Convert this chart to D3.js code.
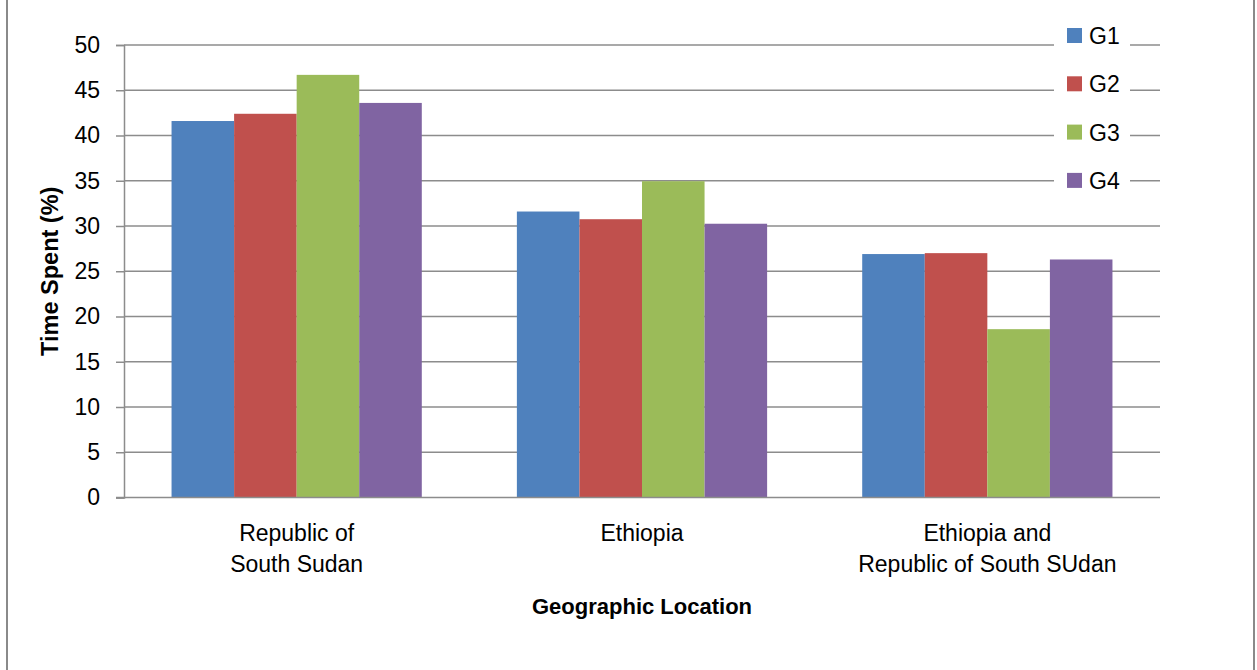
<!DOCTYPE html>
<html>
<head>
<meta charset="utf-8">
<script src="https://cdn.jsdelivr.net/npm/d3@7"></script>
<style>
  body { margin: 0; background: #fff; }
  svg text { font-family: "Liberation Sans", Arial, sans-serif; fill: #000; }
</style>
</head>
<body>
<div id="chart"></div>
<script>
// data
const locations = ["Republic of|South Sudan", "Ethiopia", "Ethiopia and|Republic of South SUdan"];
const groups = ["G1", "G2", "G3", "G4"];
const g1 = [41.6, 31.6, 26.9];
const g2 = [42.4, 30.75, 27.0];
const g3 = [46.7, 34.95, 18.6];
const g4 = [43.6, 30.25, 26.3];
const yTicks = [0, 5, 10, 15, 20, 25, 30, 35, 40, 45, 50];
const colors = ["#4F81BD", "#C0504D", "#9BBB59", "#8064A2"];

const series = [g1, g2, g3, g4];
const rows = locations.map((loc, i) => ({
    loc: loc,
    values: groups.map((g, j) => ({ key: g, value: series[j][i] }))
}));

const W = 1257, H = 670;
const plot = { left: 124, right: 1160, top: 45, bottom: 497.5 };

const svg = d3.select("#chart")
    .append("svg")
    .attr("width", W)
    .attr("height", H);

// outer chart border (top and bottom fall outside the crop)
svg.append("rect")
    .attr("x", 7).attr("y", -10)
    .attr("width", 1247).attr("height", H + 20)
    .attr("fill", "none")
    .attr("stroke", "#8a8a8a")
    .attr("stroke-width", 2);

// scales
const x0 = d3.scaleBand()
    .domain(locations)
    .range([plot.left, plot.right])
    .paddingInner(0)
    .paddingOuter(0);

const x1 = d3.scaleBand()
    .domain(groups)
    .range([0, x0.bandwidth()])
    .paddingInner(0)
    .paddingOuter(0.76);

const y = d3.scaleLinear()
    .domain([0, 50])
    .range([plot.bottom, plot.top]);

const color = d3.scaleOrdinal().domain(groups).range(colors);

// gridlines
svg.append("g")
    .selectAll("line")
    .data(yTicks.filter(d => d > 0))
    .enter()
    .append("line")
    .attr("x1", plot.left)
    .attr("x2", plot.right)
    .attr("y1", d => y(d))
    .attr("y2", d => y(d))
    .attr("stroke", "#8c8c8c")
    .attr("stroke-width", 1.5);

// bars
svg.append("g")
    .selectAll("g")
    .data(rows)
    .enter()
    .append("g")
    .attr("transform", d => `translate(${x0(d.loc)},0)`)
    .selectAll("rect")
    .data(d => d.values)
    .enter()
    .append("rect")
    .attr("x", d => x1(d.key))
    .attr("y", d => y(d.value))
    .attr("width", x1.bandwidth())
    .attr("height", d => y(0) - y(d.value))
    .attr("fill", d => color(d.key));

// y axis
const yAxis = svg.append("g")
    .attr("transform", `translate(${plot.left},0)`)
    .call(d3.axisLeft(y).tickValues(yTicks).tickSize(8).tickPadding(16).tickFormat(d3.format("d")));
yAxis.select(".domain").attr("stroke", "#8c8c8c").attr("stroke-width", 1.5);
yAxis.selectAll(".tick line").attr("stroke", "#8c8c8c").attr("stroke-width", 1.5);
yAxis.selectAll(".tick text")
    .attr("font-size", 23)
    .attr("font-family", "Liberation Sans, Arial, sans-serif")
    .attr("fill", "#000");

// x axis line
svg.append("line")
    .attr("x1", plot.left - 8).attr("x2", plot.right)
    .attr("y1", y(0)).attr("y2", y(0))
    .attr("stroke", "#8c8c8c")
    .attr("stroke-width", 1.5);

// category labels
const catLabels = svg.append("g")
    .selectAll("text")
    .data(locations)
    .enter()
    .append("text")
    .attr("x", d => x0(d) + x0.bandwidth() / 2)
    .attr("y", 541)
    .attr("text-anchor", "middle")
    .attr("font-size", 23);
catLabels.selectAll("tspan")
    .data(d => d.split("|"))
    .enter()
    .append("tspan")
    .attr("x", function() { return d3.select(this.parentNode).attr("x"); })
    .attr("dy", (d, i) => i === 0 ? 0 : 31)
    .text(d => d);

// axis titles
svg.append("text")
    .attr("x", (plot.left + plot.right) / 2)
    .attr("y", 614)
    .attr("text-anchor", "middle")
    .attr("font-size", 22)
    .attr("font-weight", "bold")
    .text("Geographic Location");

svg.append("text")
    .attr("transform", `translate(58,${(plot.top + plot.bottom) / 2}) rotate(-90)`)
    .attr("text-anchor", "middle")
    .attr("font-size", 23.5)
    .attr("font-weight", "bold")
    .text("Time Spent (%)");

// legend
const legend = svg.append("g");
legend.append("rect")
    .attr("x", 1054).attr("y", 15)
    .attr("width", 76).attr("height", 190)
    .attr("fill", "#fff");

const items = legend.selectAll(".item")
    .data(groups)
    .enter()
    .append("g")
    .attr("class", "item")
    .attr("transform", (d, i) => `translate(1067,${36 + i * 48.3})`);

items.append("rect")
    .attr("x", 0).attr("y", -8)
    .attr("width", 15).attr("height", 15)
    .attr("fill", d => color(d));

items.append("text")
    .attr("x", 22)
    .attr("y", 8)
    .attr("font-size", 23)
    .text(d => d);
</script>
</body>
</html>
